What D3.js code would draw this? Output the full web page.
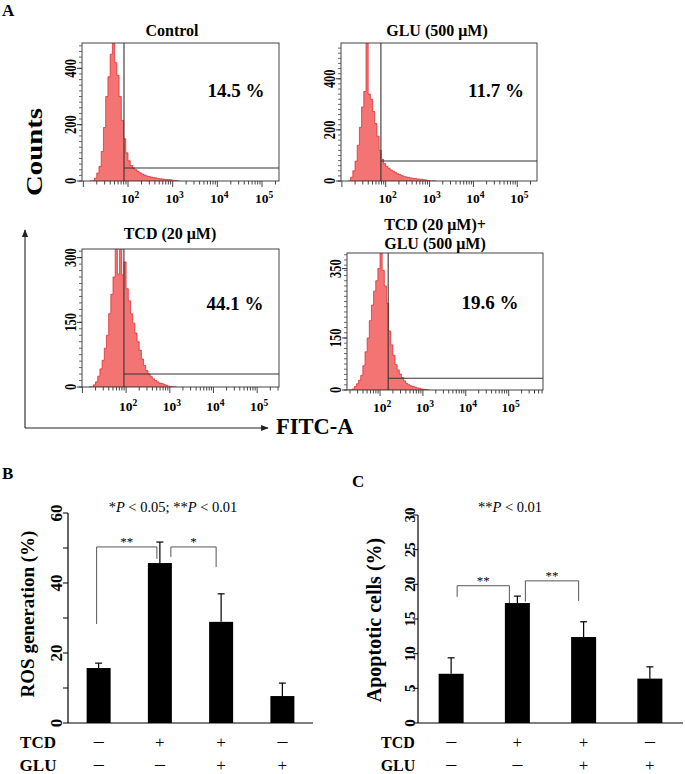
<!DOCTYPE html>
<html><head><meta charset="utf-8">
<script src="https://cdn.jsdelivr.net/npm/d3@7"></script>
<style>body{margin:0;background:#fff} svg{display:block} text{font-family:"Liberation Serif","Times New Roman",serif}</style>
</head><body>
<svg id="fig" width="685" height="774"></svg>
<script>
// ---------- DATA ----------
// histogram bins (log10 of FITC-A intensity), one count per bin
const logBins = [1.15,1.20,1.25,1.30,1.35,1.40,1.45,1.50,1.55,1.60,1.65,1.70,1.75,1.80,1.85,1.90,1.95,2.00,2.05,2.10,2.15,2.20,2.25,2.30,2.35,2.40,2.45,2.50,2.55,2.60,2.65,2.70,2.75,2.80,2.85,2.90,2.95,3.00,3.05,3.10,3.15];
const controlCounts = [0,0,10,28,52,105,190,300,370,450,490,420,375,300,215,150,100,72,55,46,40,34,29,25,21,18,16,14,12,11,9,8,7,6,5,5,4,2,1,0,0];
const gluCounts     = [0,15,40,78,140,210,290,350,540,340,320,272,225,175,120,85,68,57,50,43,38,33,28,25,21,18,16,14,12,11,10,8,7,7,5,4,2,0,0,0,0];
const tcdCounts     = [0,0,5,12,25,42,62,90,120,170,215,255,320,262,320,260,290,228,200,170,148,125,105,85,65,50,38,30,24,19,15,12,9,8,6,4,2,1,0,0,0];
const tcdGluCounts  = [0,0,0,0,3,10,18,28,42,70,110,150,200,245,285,315,350,395,345,300,250,170,130,100,73,58,46,36,26,19,15,12,10,8,6,5,3,2,1,0,0];
const histTitles = [["Control"],["GLU (500 μM)"],["TCD (20 μM)"],["TCD (20 μM)+","GLU (500 μM)"]];
const histPercents = ["14.5 %","11.7 %","44.1 %","19.6 %"];
const histYTicks = [[0,200,400],[0,200,400],[0,150,300],[0,150,350]];
const histYMax = [490,540,320,395];
const histXDomain = [[0.97,5.38],[0.98,5.45],[0.99,5.5],[1.23,5.8]];
const gateLog = [1.91,1.89,1.95,2.19];
const gateCount = [46,78,30,34];
const decadeLabels = [2,3,4,5];

const groups = ["g1","g2","g3","g4"];
const tcdSigns = ["–","+","+","–"];
const gluSigns = ["–","–","+","+"];
const rosMean = [15.7,45.7,28.9,7.7];
const rosErr  = [1.4,6.0,8.0,3.7];
const apoMean = [7.1,17.3,12.4,6.4];
const apoErr  = [2.3,1.0,2.2,1.7];
const rosTicks = [0,20,40,60];
const apoTicks = [0,5,10,15,20,25,30];
const rosBrackets = [{from:0,to:1,left:28.3,top:50.3,right:46.9,label:"**"},{from:1,to:2,left:47.4,top:50.3,right:44.6,label:"*"}];
const apoBrackets = [{from:0,to:1,left:18.2,top:19.8,right:17.3,label:"**"},{from:1,to:2,left:17.5,top:20.5,right:17.6,label:"**"}];

// ---------- DRAW ----------
const svg = d3.select("#fig");
svg.append("rect").attr("width",685).attr("height",774).attr("fill","#fff");

function txt(x,y,s,size,opts={}){
  const t = svg.append("text").attr("x",x).attr("y",y).attr("font-size",size)
    .attr("font-weight",opts.bold===false?"normal":"bold")
    .attr("text-anchor",opts.anchor||"middle").attr("fill","#000").text(s);
  if(opts.rotate){ t.attr("x",null).attr("y",null).attr("transform",`translate(${x},${y}) rotate(-90)`); }
  if(opts.len){ t.attr("textLength",opts.len).attr("lengthAdjust","spacingAndGlyphs"); }
  return t;
}

// panel letters
txt(2,16,"A",17,{anchor:"start"});
txt(2,479,"B",17,{anchor:"start"});
txt(352,487,"C",17,{anchor:"start"});

// ----- Panel A histograms -----
const histLayout = [
 {x0:82,x1:279,y0:43,y1:181, titleX:172, titleY:[36], pctX:236, pctY:97, xlabY:203},
 {x0:341,x1:537,y0:43,y1:181, titleX:437, titleY:[36], pctX:496, pctY:97, xlabY:203},
 {x0:82,x1:279,y0:249,y1:387, titleX:170, titleY:[239], pctX:235, pctY:310, xlabY:411},
 {x0:347,x1:543,y0:253,y1:390, titleX:435, titleY:[230,249], pctX:490, pctY:309, xlabY:412}
];
const histCounts = [controlCounts,gluCounts,tcdCounts,tcdGluCounts];

histLayout.forEach((L,i)=>{
  const xs = d3.scaleLinear().domain(histXDomain[i]).range([L.x0,L.x1]);
  const ys = d3.scaleLinear().domain([0,histYMax[i]]).range([L.y1,L.y0]);
  const clipId = "clip"+i;
  svg.append("clipPath").attr("id",clipId).append("rect")
    .attr("x",L.x0).attr("y",L.y0).attr("width",L.x1-L.x0).attr("height",L.y1-L.y0);
  const pts = logBins.map((b,j)=>({b,c:histCounts[i][j]}));
  const area = d3.area().curve(d3.curveStepAfter).x(d=>xs(d.b)).y0(ys(0)).y1(d=>ys(d.c));
  svg.append("path").datum(pts).attr("d",area)
    .attr("fill","#f47474").attr("stroke","#dc1f24").attr("stroke-width",0.7)
    .attr("clip-path",`url(#${clipId})`);
  // frame
  svg.append("rect").attr("x",L.x0).attr("y",L.y0).attr("width",L.x1-L.x0).attr("height",L.y1-L.y0)
    .attr("fill","none").attr("stroke","#444").attr("stroke-width",1);
  // gate marker
  const gx = xs(gateLog[i]);
  svg.append("line").attr("x1",gx).attr("x2",gx).attr("y1",L.y0).attr("y2",L.y1).attr("stroke","#333").attr("stroke-width",1.1);
  svg.append("line").attr("x1",gx).attr("x2",L.x1).attr("y1",ys(gateCount[i])).attr("y2",ys(gateCount[i])).attr("stroke","#333").attr("stroke-width",1.1);
  // y ticks
  const minorStep = histYTicks[i][1]/10;
  d3.range(0,histYMax[i],minorStep).forEach(v=>{
    svg.append("line").attr("x1",L.x0-3).attr("x2",L.x0).attr("y1",ys(v)).attr("y2",ys(v)).attr("stroke","#444").attr("stroke-width",0.8);
  });
  histYTicks[i].forEach(v=>{
    svg.append("line").attr("x1",L.x0-5).attr("x2",L.x0).attr("y1",ys(v)).attr("y2",ys(v)).attr("stroke","#333").attr("stroke-width",1);
    const s = String(v);
    txt(L.x0-6, ys(v), s, 16.5, {rotate:true, len:s.length*6.2});
  });
  // x ticks (log)
  const [lo,hi] = histXDomain[i];
  for(let k=Math.floor(lo);k<=Math.ceil(hi);k++){
    for(let m=1;m<=9;m++){
      const v = k+Math.log10(m);
      if(v<lo||v>hi) continue;
      svg.append("line").attr("x1",xs(v)).attr("x2",xs(v)).attr("y1",L.y1).attr("y2",L.y1+(m===1?6:3.5))
        .attr("stroke","#333").attr("stroke-width",0.9);
    }
  }
  decadeLabels.forEach(d=>{
    const t = txt(xs(d)+2, L.xlabY, "10", 13.5);
    t.append("tspan").attr("dy",-5).attr("font-size",9.5).text(d);
  });
  // title and percent
  histTitles[i].forEach((s,k)=>txt(L.titleX, L.titleY[k], s, 16));
  txt(L.pctX, L.pctY, histPercents[i], 19);
});

// Counts label and FITC-A axis arrows
txt(42,152,"Counts",22.5,{rotate:true,len:88});
svg.append("defs").append("marker").attr("id","arr").attr("viewBox","0 0 10 10").attr("refX",9).attr("refY",5)
  .attr("markerWidth",7).attr("markerHeight",7).attr("orient","auto")
  .append("path").attr("d","M0,1 L10,5 L0,9 Z").attr("fill","#222");
svg.append("line").attr("x1",25).attr("y1",428).attr("x2",25).attr("y2",230).attr("stroke","#222").attr("stroke-width",1.1).attr("marker-end","url(#arr)");
svg.append("line").attr("x1",25).attr("y1",428).attr("x2",268).attr("y2",428).attr("stroke","#222").attr("stroke-width",1.1).attr("marker-end","url(#arr)");
txt(276,434,"FITC-A",22.5,{anchor:"start"});

// ----- Bar panels -----
function barPanel(c){
  const y = d3.scaleLinear().domain([0,c.max]).range([c.yBottom,c.yTop]);
  const x = d3.scalePoint().domain(groups).range([c.axisX,c.xRight]).padding(0.5);
  svg.append("line").attr("x1",c.axisX).attr("x2",c.axisX).attr("y1",c.yTop).attr("y2",c.yBottom).attr("stroke","#000").attr("stroke-width",1.2);
  svg.append("line").attr("x1",c.axisX).attr("x2",c.xRight).attr("y1",c.yBottom).attr("y2",c.yBottom).attr("stroke","#000").attr("stroke-width",1.2);
  d3.range(0,c.max+0.001,c.minorStep).forEach(v=>{
    svg.append("line").attr("x1",c.axisX-5).attr("x2",c.axisX).attr("y1",y(v)).attr("y2",y(v)).attr("stroke","#000").attr("stroke-width",1);
  });
  c.ticks.forEach(v=>txt(c.axisX-c.labGap, y(v), String(v), c.tickFont, {rotate:true}));
  txt(c.ylabX, c.ylabY, c.ylab, c.ylabFont, {rotate:true});
  // bars
  svg.selectAll(null).data(c.means).join("rect")
    .attr("x",(d,i)=>x(groups[i])-c.barW/2).attr("y",d=>y(d))
    .attr("width",c.barW).attr("height",d=>y(0)-y(d)).attr("fill","#000");
  // error bars (upper)
  c.means.forEach((m,i)=>{
    const cx = x(groups[i]);
    svg.append("line").attr("x1",cx).attr("x2",cx).attr("y1",y(m)).attr("y2",y(m+c.errs[i])).attr("stroke","#000").attr("stroke-width",1.2);
    svg.append("line").attr("x1",cx-3.5).attr("x2",cx+3.5).attr("y1",y(m+c.errs[i])).attr("y2",y(m+c.errs[i])).attr("stroke","#000").attr("stroke-width",1.2);
  });
  // brackets
  c.brackets.forEach((b,k)=>{
    const xl = x(groups[b.from])+c.bOff[k][0], xr = x(groups[b.to])+c.bOff[k][1];
    svg.append("path").attr("d",`M${xl},${y(b.left)}V${y(b.top)}H${xr}V${y(b.right)}`)
      .attr("fill","none").attr("stroke","#555").attr("stroke-width",1);
    txt((xl+xr)/2, y(b.top)-0.5, b.label, 13, {bold:false});
  });
  // row labels
  txt(c.rowLabX, 748, "TCD", c.rowFont);
  txt(c.rowLabX, 771, "GLU", c.rowFont);
  groups.forEach((g,i)=>{
    txt(x(g), 748, tcdSigns[i], tcdSigns[i]==="+"?17:20, {bold:false});
    txt(x(g), 771, gluSigns[i], gluSigns[i]==="+"?17:20, {bold:false});
  });
}

barPanel({axisX:68, xRight:313, yTop:513, yBottom:723, max:60, ticks:rosTicks, minorStep:10,
  means:rosMean, errs:rosErr, brackets:rosBrackets, bOff:[[-2,-3],[11,-5]], barW:24,
  labGap:6, tickFont:17, ylab:"ROS generation (%)", ylabX:34, ylabY:614, ylabFont:19,
  rowLabX:38, rowFont:17});
barPanel({axisX:418, xRight:683, yTop:515, yBottom:723, max:30, ticks:apoTicks, minorStep:5,
  means:apoMean, errs:apoErr, brackets:apoBrackets, bOff:[[6,-8],[8,-5]], barW:25,
  labGap:3, tickFont:15, ylab:"Apoptotic cells (%)", ylabX:381, ylabY:620, ylabFont:20,
  rowLabX:398, rowFont:16});

// significance subtitles with italic P
function pText(x, parts){
  const t = svg.append("text").attr("x",x).attr("y",512).attr("font-size",14.5).attr("text-anchor","middle");
  parts.forEach(p=>t.append("tspan").attr("font-style",p[1]?"italic":"normal").text(p[0]));
}
pText(173, [["*",0],["P",1],[" < 0.05; **",0],["P",1],[" < 0.01",0]]);
pText(510, [["**",0],["P",1],[" < 0.01",0]]);
</script>
</body></html>
